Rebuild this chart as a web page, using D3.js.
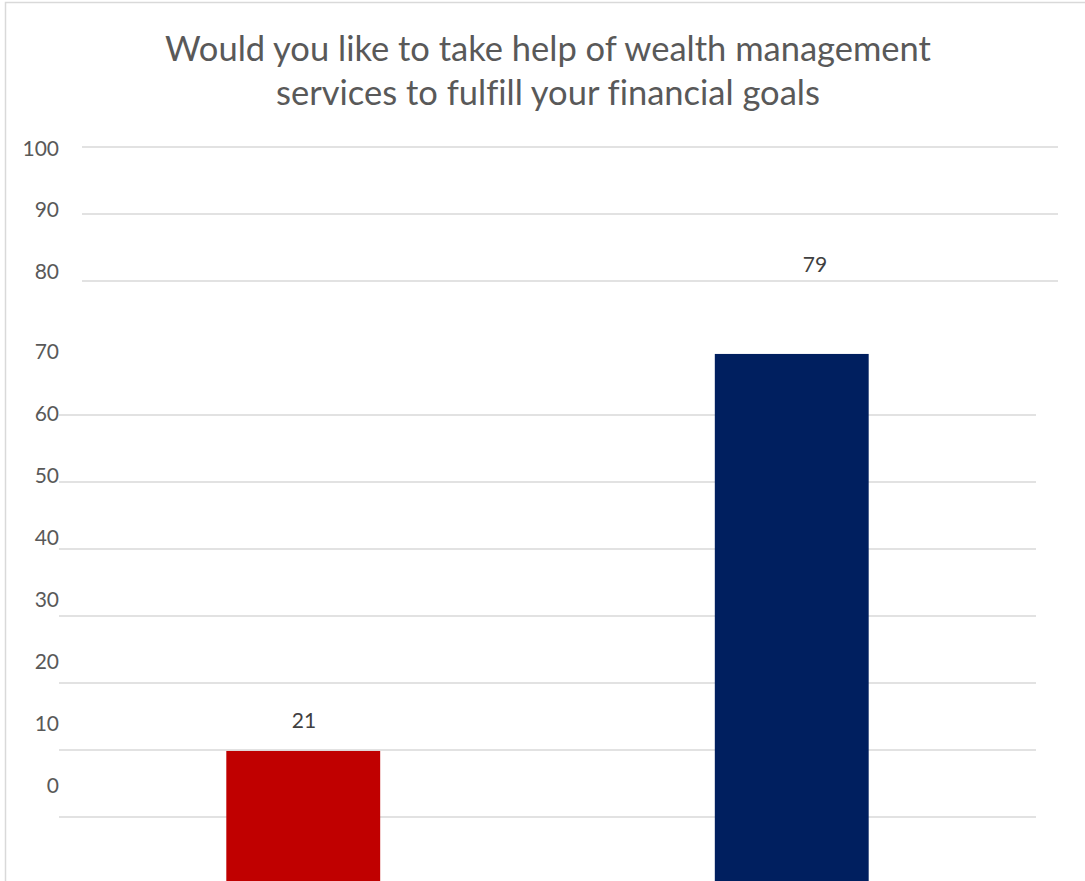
<!DOCTYPE html>
<html>
<head>
<meta charset="utf-8">
<script src="https://cdn.jsdelivr.net/npm/d3@7"></script>
<style>
  html, body { margin: 0; padding: 0; background: #ffffff; }
  svg { display: block; }
  text { font-family: Lato, "Open Sans", sans-serif; font-variant-ligatures: none; }
</style>
</head>
<body>
<svg id="chart" width="1085" height="881"></svg>
<script>
// Survey answers and their shares (%)
const categories = ["No", "Yes"];
const values = [21, 79];
const barColors = ["#C00000", "#001F5F"];

// Value axis labels and the grid lines that are drawn
const tickLabels = [0, 10, 20, 30, 40, 50, 60, 70, 80, 90, 100];
const gridValues = [0, 10, 20, 30, 40, 50, 60, 80, 90, 100];

const titleLines = [
  "Would you like to take help of wealth management",
  "services to fulfill your financial goals"
];

const W = 1085, H = 881;
const svg = d3.select("#chart");

// chart frame
svg.append("path")
  .attr("d", `M5.5,${H} V2.5 H${W}`)
  .attr("fill", "none")
  .attr("stroke", "#d9d9d9")
  .attr("stroke-width", 1.5);

// title
svg.append("g").selectAll("text")
  .data(titleLines)
  .join("text")
  .attr("x", 548)
  .attr("y", (d, i) => 61 + i * 44)
  .attr("text-anchor", "middle")
  .attr("fill", "#595959")
  .attr("font-size", 34.5)
  .text(d => d);

// scales
const x = d3.scaleBand()
  .domain(categories)
  .range([59, 1036])
  .paddingInner(0.685)
  .paddingOuter(0.3425);

const yGrid = d3.scaleLinear().domain([0, 100]).range([817, 147]);
const yTick = d3.scaleLinear().domain([0, 70, 80, 100]).range([785, 351, 271, 148]);
const yBar = d3.scaleLinear().domain([0, 100]).range([894.7, 210.2]);
const yLabel = d3.scaleLinear().domain([0, 100]).range([885.1, 98.9]);
const xLabel = d3.scalePoint().domain(categories).range([304, 815]);

// grid lines (upper block sits slightly further right)
svg.append("g").selectAll("line")
  .data(gridValues)
  .join("line")
  .attr("x1", d => d >= 80 ? 82 : 59)
  .attr("x2", d => d >= 80 ? 1058 : 1036)
  .attr("y1", d => yGrid(d))
  .attr("y2", d => yGrid(d))
  .attr("stroke", "#d9d9d9")
  .attr("stroke-width", 1.5);

// value axis labels
svg.append("g").selectAll("text")
  .data(tickLabels)
  .join("text")
  .attr("x", 59)
  .attr("y", d => yTick(d))
  .attr("dy", "0.36em")
  .attr("text-anchor", "end")
  .attr("fill", "#595959")
  .attr("font-size", 21)
  .text(d => d);

// bars
svg.append("g").selectAll("rect")
  .data(values)
  .join("rect")
  .attr("x", (d, i) => x(categories[i]))
  .attr("width", x.bandwidth())
  .attr("y", d => yBar(d))
  .attr("height", d => yBar(0) - yBar(d))
  .attr("fill", (d, i) => barColors[i]);

// data labels
svg.append("g").selectAll("text")
  .data(values)
  .join("text")
  .attr("x", (d, i) => xLabel(categories[i]))
  .attr("y", d => yLabel(d))
  .attr("dy", "0.36em")
  .attr("text-anchor", "middle")
  .attr("fill", "#404040")
  .attr("font-size", 21)
  .text(d => d);
</script>
</body>
</html>
